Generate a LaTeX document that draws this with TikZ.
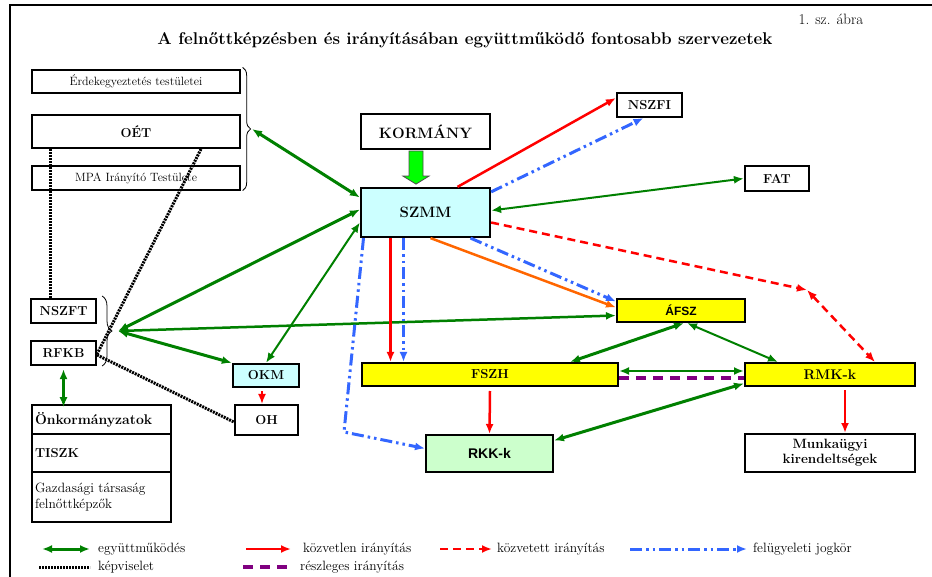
\documentclass[tikz,border=0pt]{standalone}
\usepackage{fontspec}
\setsansfont{Liberation Sans}
\usetikzlibrary{arrows.meta,calc,decorations.pathreplacing}

\definecolor{egyutt}{RGB}{0,128,0}
\definecolor{pirosk}{RGB}{255,0,0}
\definecolor{kekf}{RGB}{51,102,255}
\definecolor{narancs}{RGB}{255,102,0}
\definecolor{lila}{RGB}{128,0,128}
\definecolor{ciank}{RGB}{204,255,255}
\definecolor{sarga}{RGB}{255,255,0}
\definecolor{halvzold}{RGB}{204,255,204}
\definecolor{nyilzold}{RGB}{0,255,0}

\tikzset{
    doboz/.style={draw, line width=2.2pt, inner sep=0pt, font=\bfseries\fontsize{13}{15}\selectfont},
    vdoboz/.style={draw, line width=1.3pt, inner sep=0pt, font=\fontsize{12}{14}\selectfont},
    oszlop/.style={draw, line width=1.6pt, inner xsep=3pt, inner ysep=0pt, text width=133pt, align=left},
    egy/.style={draw=egyutt, line width=2pt, <->},
    egyv/.style={egy, line width=3pt},
    kozvetlen/.style={draw=pirosk, line width=2.5pt, ->},
    kozvetett/.style={draw=pirosk, line width=2.5pt, dash pattern=on 8pt off 5pt, ->},
    felugy/.style={draw=kekf, line width=3pt, dash pattern=on 12pt off 4pt on 2.5pt off 4pt on 2.5pt off 4pt, ->},
    kepv/.style={draw=black, line width=3pt, dash pattern=on 2pt off 1pt},
    reszl/.style={draw=lila, line width=4pt, dash pattern=on 10pt off 7pt},
    jel/.style={anchor=west, inner sep=0pt, font=\fontsize{13.5}{15}\selectfont}
}

\begin{document}
\begin{tikzpicture}[x=1pt, y=-1pt, >={Latex[length=10pt,width=8pt]}]
    %\draw[very thin,color=gray] (0,0) grid (932,577);
    \useasboundingbox (0,0) rectangle (932,577);
    \draw[line width=2.5pt] (932,5) -- (10,5) -- (10,577);
    \node[font=\fontsize{15}{17}\selectfont] (abra) at (831,19) {1. sz. ábra};
    \node[font=\bfseries\fontsize{17}{20}\selectfont] (cim) at (465,40) {A felnőttképzésben és irányításában együttműködő fontosabb szervezetek};

    \node[vdoboz, minimum width=208pt, minimum height=23pt] (erd) at (136,81.5) {Érdekegyeztetés testületei};
    \node[doboz, minimum width=208pt, minimum height=33pt] (oet) at (136,131.5) {OÉT};
    \node[vdoboz, minimum width=208pt, minimum height=24pt] (mpa) at (136,178) {MPA Irányító Testülete};
    \draw[line width=0.8pt, decorate, decoration={brace, amplitude=8pt}] ($(erd.north east)+(2,-2)$) -- ($(mpa.south east)+(2,0)$);
    \coordinate (oetcsucs) at (252,129);

    \node[doboz, minimum width=65pt, minimum height=24pt] (nszft) at (63.5,311) {NSZFT};
    \node[doboz, minimum width=65pt, minimum height=24pt] (rfkb) at (63.5,353) {RFKB};
    \draw[line width=0.8pt, decorate, decoration={brace, amplitude=10pt}] (102,296) -- (102,366);
    \coordinate (nszcsucs) at (118,331);

    \node[oszlop, minimum height=29pt, font=\bfseries\fontsize{14}{16}\selectfont] (onk) at (101.5,419.5) {Önkormányzatok};
    \node[oszlop, minimum height=38pt, font=\bfseries\fontsize{13}{15}\selectfont] (tiszk) at (101.5,453) {TISZK};
    \node[oszlop, minimum height=50pt, font=\fontsize{13.5}{16}\selectfont] (gazd) at (101.5,497) {Gazdasági társaság\\felnőttképzők};

    \node[doboz, fill=ciank, minimum width=66pt, minimum height=23pt] (okm) at (266,375.5) {OKM};
    \node[doboz, minimum width=63pt, minimum height=30pt] (oh) at (266.5,420) {OH};

    \node[doboz, minimum width=129pt, minimum height=35pt, font=\bfseries\fontsize{15}{17}\selectfont] (korm) at (425.5,131.5) {KORMÁNY};
    \node[doboz, fill=ciank, minimum width=129pt, minimum height=49pt, font=\bfseries\fontsize{15}{17}\selectfont] (szmm) at (425.5,212.5) {SZMM};
    \draw[fill=nyilzold, draw=gray!60!black, line width=0.8pt] ($(korm.south)+(-16.5,1)$) -- ++(14,0) -- ++(0,25) -- ++(6,0) -- ++(-13,8) -- ++(-13,-8) -- ++(6,0) -- cycle;

    \node[doboz, minimum width=65pt, minimum height=24pt] (nszfi) at (649.5,105) {NSZFI};
    \node[doboz, minimum width=64pt, minimum height=25pt] (fat) at (777,178.5) {FAT};
    \node[doboz, fill=sarga, line width=2pt, minimum width=128pt, minimum height=23pt, font=\sffamily\bfseries\fontsize{12}{14}\selectfont] (afsz) at (681,310.5) {ÁFSZ};
    \node[doboz, fill=sarga, line width=2pt, minimum width=256pt, minimum height=23pt] (fszh) at (490,374.5) {FSZH};
    \node[doboz, fill=sarga, line width=2pt, minimum width=170pt, minimum height=23pt, font=\bfseries\fontsize{14}{16}\selectfont] (rmk) at (830,374.5) {RMK-k};
    \node[doboz, fill=halvzold, line width=2pt, minimum width=127pt, minimum height=37pt, font=\sffamily\bfseries\fontsize{14}{16}\selectfont] (rkk) at (489.5,453.5) {RKK-k};
    \node[doboz, line width=2pt, minimum width=170pt, minimum height=38pt, align=center, font=\bfseries\fontsize{13.5}{15}\selectfont] (munka) at (830,453) {Munkaügyi\\kirendeltségek};

    \coordinate (kanyar) at (807,290);
    \coordinate (kanyar2) at (344,432);

    \draw[kepv] ([xshift=-13.5pt]nszft.north) -- ([xshift=-13.5pt]nszft.north |- oet.south);
    \draw[kepv] ([xshift=65pt]oet.south) -- ([yshift=-1pt]rfkb.east);
    \draw[kepv] ([yshift=-2pt]rfkb.east) -- ([yshift=-2pt]oh.west);

    \draw[egyv] (oetcsucs) -- ([yshift=15pt]szmm.west);
    \draw[egyv] (nszcsucs) -- ([yshift=3pt]szmm.west);
    \draw[egy] (okm.north) -- ([yshift=-10pt]szmm.west);
    \draw[egyv] (nszcsucs) -- (okm.north west);
    \draw[egyv, line width=2.5pt] (nszcsucs) -- ([yshift=-5pt]afsz.west);
    \draw[egyv] ([yshift=-3pt]rfkb.south) -- ([yshift=-3pt]rfkb.south |- onk.north);
    \draw[egy] ([yshift=2pt]szmm.east) -- (fat.west);

    \draw[kozvetlen] ([xshift=32pt]szmm.north) -- ([yshift=7pt]nszfi.west);
    \draw[felugy] ([yshift=-5pt]szmm.north east) -- ([xshift=-6pt]nszfi.south);
    \draw[kozvetett] ([yshift=-10pt]szmm.east) -- (kanyar);
    \draw[kozvetett, <->] (kanyar) -- ([xshift=45pt]rmk.north);
    \draw[draw=narancs, line width=2.5pt, ->] ([xshift=5pt]szmm.south) -- ([yshift=3pt]afsz.west);
    \draw[felugy] ([xshift=45pt]szmm.south) -- ([yshift=9pt]afsz.west);
    \draw[kozvetlen] ([xshift=-35pt]szmm.south) -- ([xshift=-35pt]szmm.south |- fszh.north);
    \draw[felugy] ([xshift=-22pt]szmm.south) -- ([xshift=-22pt]szmm.south |- fszh.north);
    \draw[felugy] ([xshift=-62pt]szmm.south) -- (kanyar2) -- ([yshift=5pt]rkk.west);

    \draw[kozvetlen] ([yshift=-4pt]fszh.south) -- (rkk.north);
    \draw[kozvetlen] ([shift={(15pt,-3pt)}]rmk.south) -- ([xshift=15pt]munka.north);
    \draw[kozvetlen, line width=1.5pt] ([shift={(-4pt,-3pt)}]okm.south) -- ([xshift=-4pt]okm.south |- oh.north);

    \draw[egyv] ([xshift=80pt]fszh.north) -- ([xshift=3pt]afsz.south);
    \draw[egy] ([xshift=6pt]afsz.south) -- ([xshift=-52pt]rmk.north);
    \draw[egy] ([yshift=3.5pt]fszh.east) -- ([yshift=3.5pt]rmk.west);
    \draw[reszl] ([yshift=-3pt]fszh.east) -- ([yshift=-3pt]rmk.west);
    \draw[egyv] ([yshift=13pt]rkk.east) -- ([yshift=-9pt]rmk.west);

    \node[jel] (l1) at (98,549) {együttműködés};
    \draw[egyv] ($(l1.west)+(-56,0)$) -- ($(l1.west)+(-8,0)$);
    \node[jel] (l2) at (303,549) {közvetlen irányítás};
    \draw[kozvetlen] ($(l2.west)+(-57,0)$) -- ($(l2.west)+(-12,0)$);
    \node[jel] (l3) at (497,549) {közvetett irányítás};
    \draw[kozvetett] ($(l3.west)+(-57,0)$) -- ($(l3.west)+(-5,0)$);
    \node[jel] (l4) at (753,549) {felügyeleti jogkör};
    \draw[felugy] ($(l4.west)+(-123,0)$) -- ($(l4.west)+(-6,0)$);
    \node[jel] (l5) at (98,567) {képviselet};
    \draw[kepv] ($(l5.west)+(-59,0)$) -- ($(l5.west)+(-8,0)$);
    \node[jel] (l6) at (300,567) {részleges irányítás};
    \draw[reszl] ($(l6.west)+(-57,0)$) -- ($(l6.west)+(-6,0)$);
\end{tikzpicture}
\end{document}
